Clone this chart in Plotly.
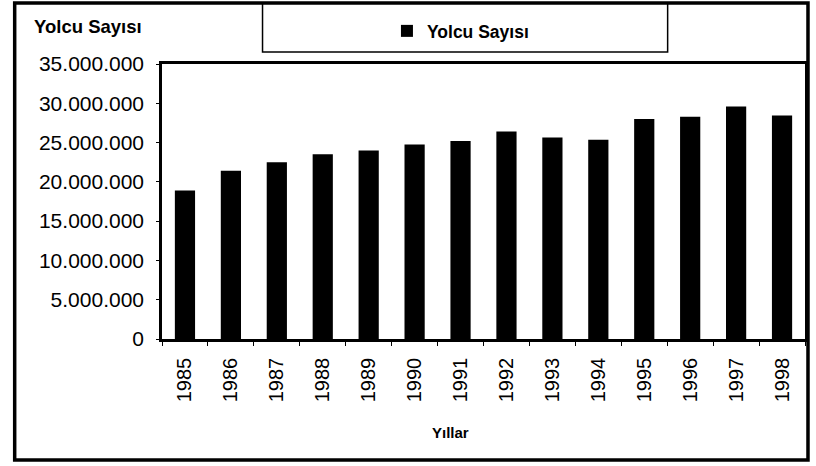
import plotly.graph_objects as go

years = ["1985", "1986", "1987", "1988", "1989", "1990", "1991",
         "1992", "1993", "1994", "1995", "1996", "1997", "1998"]
passengers = [18900000, 21400000, 22500000, 23500000, 24000000, 24750000, 25200000,
              26400000, 25650000, 25350000, 28000000, 28300000, 29600000, 28450000]
series_name = "Yolcu Sayısı"
y_title = "Yolcu Sayısı"
x_title = "Yıllar"
y_ticks = [0, 5000000, 10000000, 15000000, 20000000, 25000000, 30000000, 35000000]

FONT = "Liberation Sans, Arial, sans-serif"

L, R, T, B = 162, 8, 64, 127
W, H = 816, 466
pw, ph = W - L - R, H - T - B

def px(x):
    return (x - L) / pw

def py(y):
    return (H - B - y) / ph

fig = go.Figure()
fig.add_trace(go.Bar(
    x=years, y=passengers, name=series_name,
    marker=dict(color="black", line=dict(width=0)),
))

fig.update_layout(
    width=W, height=H,
    margin=dict(l=L, r=R, t=T, b=B, pad=0),
    paper_bgcolor="white", plot_bgcolor="white",
    separators=",.",
    bargap=0.56,
    font=dict(family=FONT, color="black"),
    showlegend=True,
    legend=dict(
        x=px(388), y=py(31), xanchor="left", yanchor="middle",
        bgcolor="rgba(0,0,0,0)", borderwidth=0,
        font=dict(family=FONT, size=17.5, color="black", weight="bold"),
    ),
    xaxis=dict(
        type="category", tickangle=-90, tickson="boundaries",
        ticks="outside", ticklen=4, tickcolor="black", tickwidth=1,
        showline=True, linecolor="black", linewidth=2.5, mirror=True,
        showgrid=False, zeroline=False,
        tickfont=dict(family=FONT, size=20, color="black"),
        ticklabelstandoff=8,
    ),
    yaxis=dict(
        range=[0, 35000000], tickvals=y_ticks, tickformat=",d",
        ticks="outside", ticklen=3, tickcolor="black", tickwidth=1,
        showline=True, linecolor="black", linewidth=2.5, mirror=True,
        showgrid=False, zeroline=False,
        tickfont=dict(family=FONT, size=21, color="black"),
        ticklabelstandoff=8,
    ),
    shapes=[
        dict(type="rect", xref="paper", yref="paper",
             x0=px(14), x1=px(811), y0=py(460), y1=py(3),
             line=dict(color="black", width=3.5), fillcolor="rgba(0,0,0,0)"),
        dict(type="rect", xref="paper", yref="paper",
             x0=px(263), x1=px(670), y0=py(52), y1=py(3),
             line=dict(color="black", width=1.5), fillcolor="rgba(0,0,0,0)"),
    ],
    annotations=[
        dict(text="<b>" + y_title + "</b>", xref="paper", yref="paper",
             x=px(31), y=py(26), xanchor="left", yanchor="middle", showarrow=False,
             font=dict(family=FONT, size=18.5, color="black")),
        dict(text="<b>" + x_title + "</b>", xref="paper", yref="paper",
             x=px(452), y=py(432), xanchor="center", yanchor="middle", showarrow=False,
             font=dict(family=FONT, size=15, color="black")),
    ],
)

fig.write_html("out.html", config={"displayModeBar": False},
               post_script="document.body.style.margin='0';")
